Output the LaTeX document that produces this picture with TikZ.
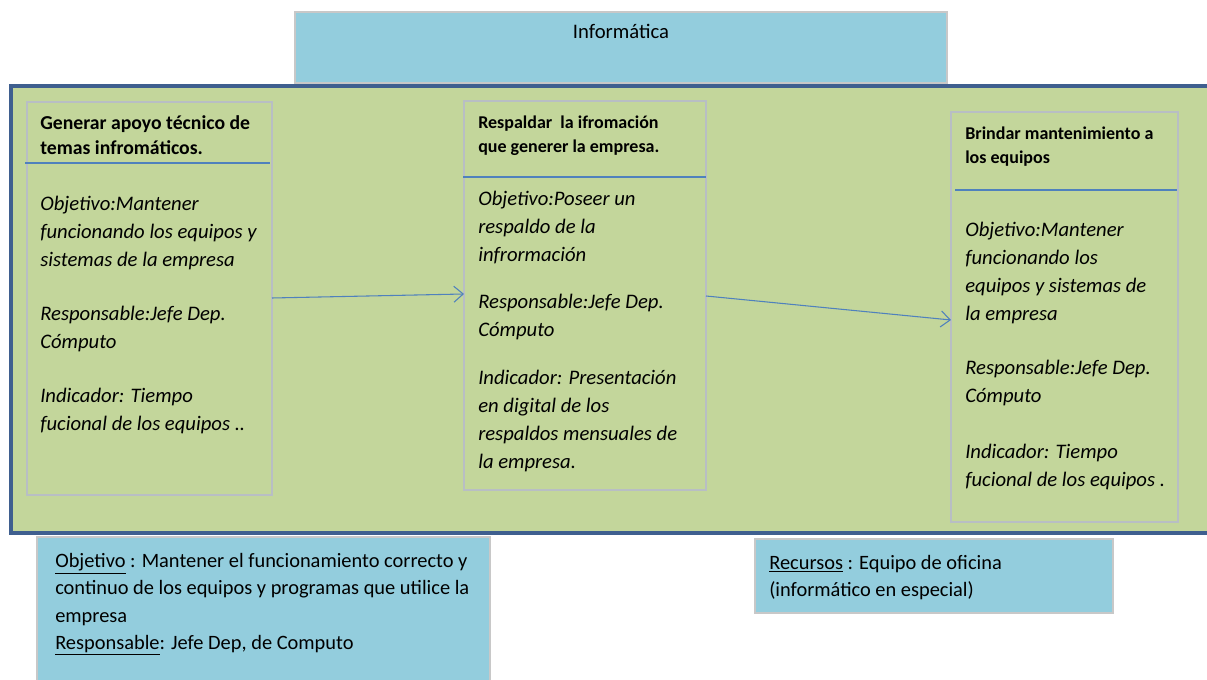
\documentclass[tikz,border=0pt]{standalone}
\usepackage{fontspec}
\setmainfont{Carlito}
\usetikzlibrary{arrows.meta}
\definecolor{lblue}{HTML}{93CDDD}
\definecolor{lgreen}{HTML}{C3D69B}
\definecolor{dblue}{HTML}{3F5F8F}
\definecolor{sepblue}{HTML}{4F81BD}
\definecolor{gborder}{HTML}{B8BEC4}
\definecolor{bborder}{HTML}{C8C8C8}
\tikzset{
  bluebox/.style={fill=lblue, draw=bborder, line width=1.2pt},
  taskbox/.style={draw=gborder, line width=1.2pt},
  sepline/.style={draw=sepblue, line width=1pt},
  flow/.style={draw=sepblue, line width=0.8pt, -{Straight Barb[length=7pt,width=12pt]}},
  txt/.style={anchor=north west, inner sep=0pt, align=left},
  ttitle/.style={txt, font=\fontsize{14.8}{18.75}\selectfont\bfseries},
  stitle/.style={txt, font=\fontsize{13.5}{18}\selectfont\bfseries},
  tbody/.style={txt, font=\fontsize{15.5}{21}\selectfont\itshape},
  btxt/.style={txt, font=\fontsize{15.3}{20.5}\selectfont},
}
\begin{document}
\begin{tikzpicture}[x=0.75pt,y=-0.75pt]
\useasboundingbox (0,0) rectangle (1207,680);
% green container
\draw[fill=lgreen, draw=dblue, line width=3pt] (11,86) rectangle (1225,533);
% top box
\path[bluebox] (295,12) rectangle (947,83);
\node[anchor=north, inner sep=0pt, font=\fontsize{15.5}{19}\selectfont] (toptxt) at (621,24) {Informática};
% task boxes
\draw[taskbox] (27,102) rectangle (272,495);
\coordinate (b1w) at (27,298); \coordinate (b1e) at (272,298);
\draw[sepline] (25,163) -- (270,163);
\node[ttitle] (t1) at (40,115) {Generar apoyo técnico de\\temas infromáticos.};
\node[tbody] (d1) at (40,196) {Objetivo:Mantener\\funcionando los equipos y\\sistemas de la empresa\\[19.5pt]Responsable:Jefe Dep.\\Cómputo\\[19.5pt]Indicador: Tiempo\\fucional de los equipos ..};

\draw[taskbox] (464,101) rectangle (706,490);
\coordinate (b2w) at (464,294); \coordinate (b2e) at (706,296);
\draw[sepline] (463,177) -- (706,177);
\node[stitle] (t2) at (478,116) {Respaldar\ \ la ifromación\\que generer la empresa.};
\node[tbody] (d2) at (478,191) {Objetivo:Poseer un\\respaldo de la\\infrormación\\[14.5pt]Responsable:Jefe Dep.\\Cómputo\\[14.5pt]Indicador: Presentación\\en digital de los\\respaldos mensuales de\\la empresa.};

\draw[taskbox] (951,112) rectangle (1178,522);
\coordinate (b3w) at (951,320);
\draw[sepline] (955,190) -- (1177,190);
\node[stitle] (t3) at (965,127) {Brindar mantenimiento a\\los equipos};
\node[tbody] (d3) at (965,222) {Objetivo:Mantener\\funcionando los\\equipos y sistemas de\\la empresa\\[19.5pt]Responsable:Jefe Dep.\\Cómputo\\[21pt]Indicador: Tiempo\\fucional de los equipos .};

% arrows
\draw[flow] (b1e) -- (b2w);
\draw[flow] (b2e) -- (b3w);

% bottom boxes
\path[bluebox] (37,537) rectangle (490,700);
\node[btxt] (obj) at (55,553) {\underline{Objetivo} : Mantener el funcionamiento correcto y\\continuo de los equipos y programas que utilice la\\empresa\\\underline{Responsable}: Jefe Dep, de Computo};
\path[bluebox] (755,539) rectangle (1113,613);
\node[btxt] (rec) at (769,555) {\underline{Recursos} : Equipo de oficina\\(informático en especial)};
\end{tikzpicture}
\end{document}
